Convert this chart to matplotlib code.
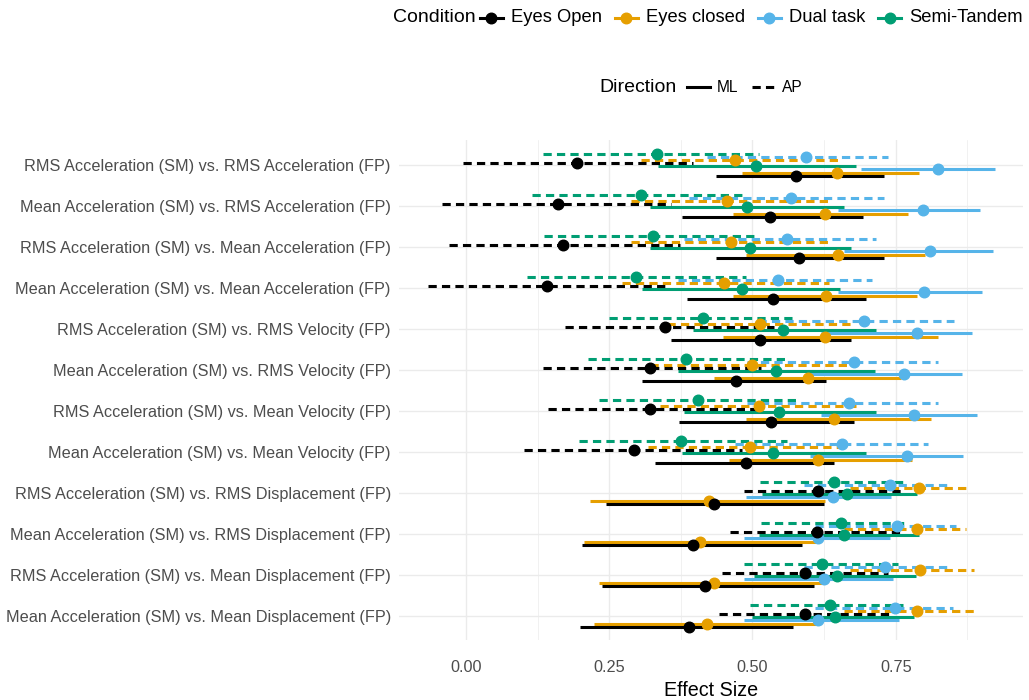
import numpy as np
import matplotlib
matplotlib.use("Agg")
import matplotlib.pyplot as plt
from matplotlib.lines import Line2D

plt.rcParams['font.family'] = ['Liberation Sans', 'DejaVu Sans']

categories = [
    "RMS Acceleration (SM) vs. RMS Acceleration (FP)",
    "Mean Acceleration (SM) vs. RMS Acceleration (FP)",
    "RMS Acceleration (SM) vs. Mean Acceleration (FP)",
    "Mean Acceleration (SM) vs. Mean Acceleration (FP)",
    "RMS Acceleration (SM) vs. RMS Velocity (FP)",
    "Mean Acceleration (SM) vs. RMS Velocity (FP)",
    "RMS Acceleration (SM) vs. Mean Velocity (FP)",
    "Mean Acceleration (SM) vs. Mean Velocity (FP)",
    "RMS Acceleration (SM) vs. RMS Displacement (FP)",
    "Mean Acceleration (SM) vs. RMS Displacement (FP)",
    "RMS Acceleration (SM) vs. Mean Displacement (FP)",
    "Mean Acceleration (SM) vs. Mean Displacement (FP)",
]
conditions = ["Eyes Open", "Eyes closed", "Dual task", "Semi-Tandem"]
cond_colors = ["#000000", "#E69F00", "#56B4E9", "#009E73"]
directions = ["ML", "AP"]
x_ticks = [0.0, 0.25, 0.5, 0.75]
x_tick_labels = ["0.00", "0.25", "0.50", "0.75"]

# Eyes Open
eo_ml    = [0.576, 0.530, 0.581, 0.536, 0.514, 0.471, 0.532, 0.488, 0.433, 0.397, 0.418, 0.389]
eo_ml_lo = [0.436, 0.377, 0.436, 0.386, 0.357, 0.308, 0.372, 0.330, 0.245, 0.203, 0.237, 0.199]
eo_ml_hi = [0.729, 0.693, 0.729, 0.698, 0.672, 0.629, 0.678, 0.643, 0.625, 0.587, 0.608, 0.571]
eo_ap    = [0.193, 0.160, 0.170, 0.142, 0.347, 0.321, 0.321, 0.293, 0.614, 0.612, 0.591, 0.592]
eo_ap_lo = [-0.006, -0.041, -0.030, -0.067, 0.172, 0.134, 0.143, 0.101, 0.486, 0.460, 0.446, 0.441]
eo_ap_hi = [0.397, 0.357, 0.374, 0.354, 0.538, 0.515, 0.509, 0.482, 0.762, 0.760, 0.736, 0.742]
# Eyes closed
ec_ml    = [0.648, 0.626, 0.650, 0.628, 0.626, 0.597, 0.642, 0.615, 0.425, 0.409, 0.433, 0.420]
ec_ml_lo = [0.482, 0.466, 0.489, 0.466, 0.449, 0.433, 0.489, 0.459, 0.216, 0.206, 0.232, 0.224]
ec_ml_hi = [0.791, 0.772, 0.801, 0.788, 0.824, 0.759, 0.811, 0.778, 0.627, 0.618, 0.625, 0.614]
ec_ap    = [0.469, 0.456, 0.463, 0.451, 0.513, 0.499, 0.512, 0.495, 0.790, 0.787, 0.792, 0.787]
ec_ap_lo = [0.305, 0.288, 0.288, 0.272, 0.351, 0.321, 0.338, 0.318, 0.670, 0.660, 0.670, 0.660]
ec_ap_hi = [0.657, 0.634, 0.637, 0.634, 0.673, 0.673, 0.680, 0.657, 0.882, 0.873, 0.886, 0.890]
# Dual task
dt_ml    = [0.824, 0.798, 0.809, 0.800, 0.788, 0.765, 0.782, 0.770, 0.640, 0.615, 0.625, 0.615]
dt_ml_lo = [0.690, 0.650, 0.660, 0.650, 0.620, 0.600, 0.620, 0.600, 0.488, 0.486, 0.486, 0.486]
dt_ml_hi = [0.923, 0.897, 0.920, 0.901, 0.884, 0.866, 0.892, 0.868, 0.741, 0.740, 0.745, 0.755]
dt_ap    = [0.593, 0.568, 0.560, 0.545, 0.695, 0.678, 0.668, 0.657, 0.740, 0.752, 0.732, 0.748]
dt_ap_lo = [0.420, 0.390, 0.380, 0.370, 0.510, 0.490, 0.490, 0.470, 0.590, 0.610, 0.590, 0.610]
dt_ap_hi = [0.736, 0.729, 0.716, 0.709, 0.851, 0.823, 0.824, 0.806, 0.845, 0.855, 0.845, 0.850]
# Semi-Tandem
st_ml    = [0.507, 0.490, 0.495, 0.482, 0.553, 0.541, 0.547, 0.536, 0.665, 0.660, 0.647, 0.644]
st_ml_lo = [0.336, 0.321, 0.321, 0.308, 0.397, 0.370, 0.380, 0.377, 0.517, 0.512, 0.503, 0.500]
st_ml_hi = [0.680, 0.660, 0.672, 0.653, 0.716, 0.713, 0.716, 0.699, 0.788, 0.790, 0.785, 0.782]
st_ap    = [0.334, 0.305, 0.326, 0.297, 0.414, 0.384, 0.405, 0.375, 0.643, 0.655, 0.622, 0.635]
st_ap_lo = [0.134, 0.116, 0.137, 0.106, 0.249, 0.213, 0.232, 0.198, 0.513, 0.515, 0.486, 0.495]
st_ap_hi = [0.512, 0.482, 0.505, 0.489, 0.578, 0.558, 0.580, 0.561, 0.762, 0.770, 0.754, 0.762]

series = {
    ("Eyes Open", "ML"): (eo_ml, eo_ml_lo, eo_ml_hi),
    ("Eyes Open", "AP"): (eo_ap, eo_ap_lo, eo_ap_hi),
    ("Eyes closed", "ML"): (ec_ml, ec_ml_lo, ec_ml_hi),
    ("Eyes closed", "AP"): (ec_ap, ec_ap_lo, ec_ap_hi),
    ("Dual task", "ML"): (dt_ml, dt_ml_lo, dt_ml_hi),
    ("Dual task", "AP"): (dt_ap, dt_ap_lo, dt_ap_hi),
    ("Semi-Tandem", "ML"): (st_ml, st_ml_lo, st_ml_hi),
    ("Semi-Tandem", "AP"): (st_ap, st_ap_lo, st_ap_hi),
}

# ---------------------------------------------------------------- styling
W, H = 1029, 700
DASH = (0, (2.7, 1.7))
LW = 2.2
MS = 7.6
color_of = dict(zip(conditions, cond_colors))
ls_of = {"ML": "-", "AP": DASH}

# vertical dodge order (top to bottom within a row)
dodge_order = [("Semi-Tandem", "AP"), ("Dual task", "AP"), ("Eyes closed", "AP"), ("Eyes Open", "AP"),
               ("Semi-Tandem", "ML"), ("Dual task", "ML"), ("Eyes closed", "ML"), ("Eyes Open", "ML")]
step = 0.077
offset_of = {key: (k - 3.5) * step for k, key in enumerate(dodge_order)}
draw_order = ["Semi-Tandem", "Eyes closed", "Dual task", "Eyes Open"]

fig = plt.figure(figsize=(W / 100, H / 100), dpi=100)
fig.patch.set_facecolor("white")
panel_left, panel_right = 399.2, 1023.2
panel_top, panel_bottom = 140.1, 640.3
ax = fig.add_axes([panel_left / W, 1 - panel_bottom / H,
                   (panel_right - panel_left) / W, (panel_bottom - panel_top) / H])

ypos = np.arange(len(categories))
for cond in draw_order:
    for d in directions:
        est, lo, hi = series[(cond, d)]
        y = ypos + offset_of[(cond, d)]
        ax.hlines(y, lo, hi, colors=color_of[cond], linestyles=ls_of[d], linewidth=LW, zorder=2)
for cond in draw_order:
    for d in directions:
        est, lo, hi = series[(cond, d)]
        y = ypos + offset_of[(cond, d)]
        ax.plot(est, y, "o", color=color_of[cond], ms=MS, mec=color_of[cond], zorder=3)

# limits like ggplot (5% expansion on continuous, 0.6 on discrete)
all_lo = min(min(v[1]) for v in series.values())
all_hi = max(max(v[2]) for v in series.values())
rng = all_hi - all_lo
ax.set_xlim(all_lo - 0.05 * rng, all_hi + 0.05 * rng)
ax.set_ylim(len(categories) - 1 + 0.6, -0.6)

ax.set_xticks(x_ticks)
ax.set_xticklabels(x_tick_labels)
ax.set_xticks([0.125, 0.375, 0.625, 0.875], minor=True)
ax.set_yticks(ypos)
ax.set_yticklabels(categories)
ax.tick_params(axis="both", which="both", length=0, labelcolor="#4D4D4D", labelsize=11.7)
ax.tick_params(axis="y", pad=6)
ax.tick_params(axis="x", pad=14.5)
ax.grid(True, which="major", color="#EBEBEB", linewidth=1.0, zorder=0)
ax.grid(True, which="minor", axis="x", color="#EBEBEB", linewidth=0.5, zorder=0)
ax.set_axisbelow(True)
for s in ax.spines.values():
    s.set_visible(False)

fig.text((panel_left + panel_right) / 2 / W, 1 - 690 / H, "Effect Size",
         ha="center", va="center", size=14.2, color="black")

# ---------------------------------------------------------------- legends (ggplot-style, top)
fig.canvas.draw()
renderer = fig.canvas.get_renderer()


def text_width(s, size):
    t = fig.text(0, 0, s, size=size)
    w = t.get_window_extent(renderer).width
    t.remove()
    return w


TITLE_SIZE = 14.0
KEY_W = 23


def draw_legend(title, labels, styles, cy, center, lab_size, gap_t, gap_k, gap_i):
    widths = [text_width(l, lab_size) for l in labels]
    tw = text_width(title, TITLE_SIZE)
    total = tw + gap_t + sum(KEY_W + gap_k + w for w in widths) + gap_i * (len(labels) - 1)
    x = center - total / 2
    fy = 1 - cy / H
    fig.text(x / W, fy, title, size=TITLE_SIZE, ha="left", va="center", color="black")
    x += tw + gap_t
    for lab, w, (col, ls, mk) in zip(labels, widths, styles):
        fig.add_artist(Line2D([x / W, (x + KEY_W) / W], [fy, fy], color=col, linestyle=ls,
                              linewidth=LW, transform=fig.transFigure))
        if mk:
            fig.add_artist(Line2D([(x + KEY_W / 2) / W], [fy], marker="o", color=col, ms=MS,
                                  linestyle="none", transform=fig.transFigure))
        x += KEY_W + gap_k
        fig.text(x / W, fy, lab, size=lab_size, ha="left", va="center", color="black")
        x += w + gap_i


draw_legend("Condition", conditions,
            [(c, "-", True) for c in cond_colors], 18, 708, 13.2, 4, 8, 13)
draw_legend("Direction", directions,
            [("black", "-", False), ("black", DASH, False)], 87, 701, 11.2, 10, 7, 13)

fig.savefig("out.png", dpi=100, facecolor="white")
